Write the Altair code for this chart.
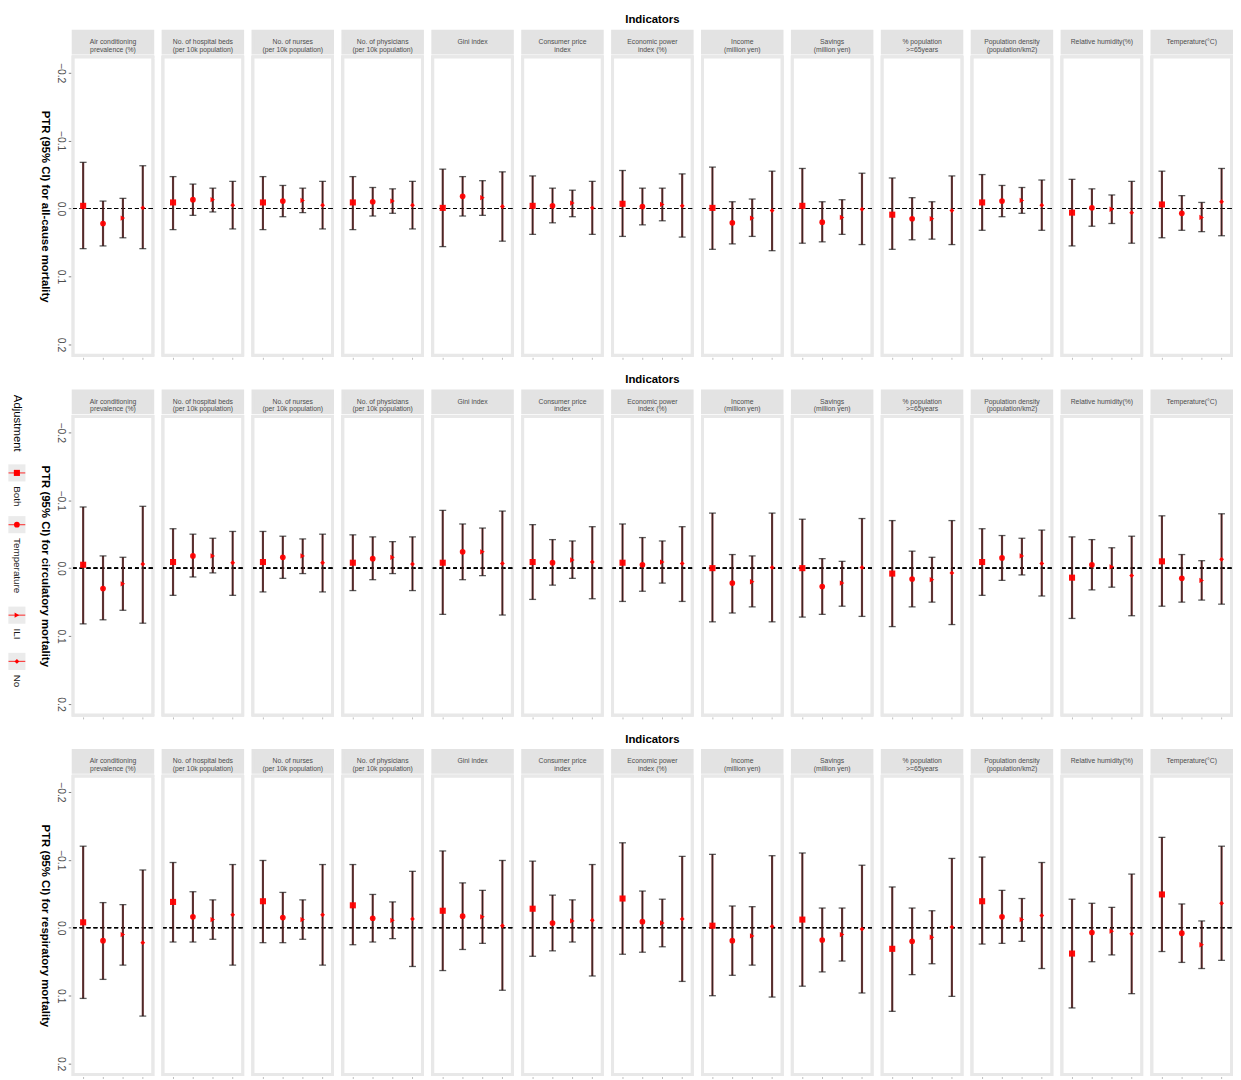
import altair as alt
import pandas as pd

FONT = "Liberation Sans"

indicators = [
    "Air conditioning\nprevalence (%)",
    "No. of hospital beds\n(per 10k population)",
    "No. of nurses\n(per 10k population)",
    "No. of physicians\n(per 10k population)",
    "Gini index",
    "Consumer price\nindex",
    "Economic power\nindex (%)",
    "Income\n(million yen)",
    "Savings\n(million yen)",
    "% population\n>=65years",
    "Population density\n(population/km2)",
    "Relative humidity(%)",
    "Temperature(°C)",
]
adjustments = ["Both", "Temperature", "ILI", "No"]
outcome_titles = [
    "PTR (95% CI) for all-cause mortality",
    "PTR (95% CI) for circulatory mortality",
    "PTR (95% CI) for respiratory mortality",
]

# ---- all-cause mortality: [Both, Temperature, ILI, No] per indicator
allcause_est = [
    [-0.004, 0.022, 0.014, -0.001], [-0.009, -0.013, -0.013, -0.005],
    [-0.009, -0.011, -0.012, -0.005], [-0.009, -0.010, -0.011, -0.005],
    [-0.001, -0.018, -0.016, -0.003], [-0.004, -0.004, -0.008, -0.001],
    [-0.007, -0.003, -0.006, -0.004], [-0.001, 0.021, 0.014, 0.003],
    [-0.004, 0.020, 0.013, 0.001], [0.009, 0.015, 0.015, 0.003],
    [-0.009, -0.011, -0.012, -0.005], [0.006, -0.001, 0.001, 0.006],
    [-0.006, 0.007, 0.013, -0.010],
]
allcause_lo = [
    [-0.068, -0.011, -0.015, -0.063], [-0.047, -0.036, -0.030, -0.040],
    [-0.047, -0.034, -0.030, -0.040], [-0.047, -0.031, -0.029, -0.040],
    [-0.058, -0.047, -0.041, -0.054], [-0.048, -0.030, -0.027, -0.040],
    [-0.056, -0.030, -0.030, -0.051], [-0.061, -0.010, -0.014, -0.055],
    [-0.059, -0.010, -0.013, -0.052], [-0.045, -0.016, -0.010, -0.048],
    [-0.050, -0.034, -0.031, -0.042], [-0.043, -0.029, -0.020, -0.040],
    [-0.055, -0.019, -0.009, -0.059],
]
allcause_hi = [
    [0.059, 0.055, 0.043, 0.059], [0.031, 0.010, 0.005, 0.030],
    [0.031, 0.012, 0.006, 0.030], [0.031, 0.011, 0.007, 0.030],
    [0.056, 0.011, 0.010, 0.048], [0.038, 0.021, 0.012, 0.038],
    [0.041, 0.024, 0.018, 0.042], [0.060, 0.052, 0.041, 0.062],
    [0.051, 0.049, 0.038, 0.053], [0.060, 0.046, 0.045, 0.053],
    [0.032, 0.012, 0.007, 0.032], [0.055, 0.026, 0.022, 0.051],
    [0.043, 0.032, 0.034, 0.040],
]

# ---- circulatory mortality
circ_est = [
    [-0.005, 0.030, 0.023, -0.006], [-0.009, -0.018, -0.018, -0.008],
    [-0.009, -0.016, -0.018, -0.008], [-0.008, -0.014, -0.016, -0.006],
    [-0.008, -0.024, -0.024, -0.007], [-0.009, -0.008, -0.012, -0.009],
    [-0.008, -0.005, -0.009, -0.007], [0.000, 0.022, 0.020, -0.001],
    [0.000, 0.027, 0.022, -0.001], [0.008, 0.016, 0.017, 0.007],
    [-0.009, -0.015, -0.018, -0.007], [0.014, -0.005, -0.002, 0.011],
    [-0.010, 0.015, 0.018, -0.013],
]
circ_lo = [
    [-0.090, -0.018, -0.016, -0.091], [-0.058, -0.050, -0.044, -0.054],
    [-0.054, -0.047, -0.043, -0.050], [-0.049, -0.046, -0.039, -0.046],
    [-0.085, -0.065, -0.059, -0.084], [-0.064, -0.042, -0.040, -0.061],
    [-0.065, -0.045, -0.040, -0.061], [-0.081, -0.020, -0.018, -0.081],
    [-0.072, -0.014, -0.010, -0.073], [-0.070, -0.025, -0.016, -0.070],
    [-0.058, -0.048, -0.044, -0.056], [-0.046, -0.042, -0.030, -0.047],
    [-0.077, -0.020, -0.011, -0.080],
]
circ_hi = [
    [0.082, 0.076, 0.062, 0.081], [0.040, 0.013, 0.007, 0.040],
    [0.035, 0.015, 0.008, 0.035], [0.033, 0.017, 0.008, 0.033],
    [0.068, 0.017, 0.011, 0.069], [0.046, 0.025, 0.015, 0.045],
    [0.049, 0.034, 0.022, 0.049], [0.079, 0.066, 0.057, 0.079],
    [0.072, 0.068, 0.056, 0.071], [0.086, 0.057, 0.050, 0.083],
    [0.040, 0.018, 0.010, 0.041], [0.074, 0.032, 0.028, 0.070],
    [0.056, 0.050, 0.047, 0.053],
]

# ---- respiratory mortality
resp_est = [
    [-0.008, 0.019, 0.010, 0.022], [-0.038, -0.016, -0.012, -0.019],
    [-0.039, -0.015, -0.012, -0.019], [-0.033, -0.014, -0.011, -0.013],
    [-0.025, -0.017, -0.016, -0.003], [-0.028, -0.007, -0.010, -0.011],
    [-0.043, -0.009, -0.007, -0.013], [-0.003, 0.019, 0.012, -0.002],
    [-0.012, 0.018, 0.010, 0.002], [0.031, 0.020, 0.014, -0.001],
    [-0.039, -0.016, -0.012, -0.018], [0.038, 0.007, 0.005, 0.009],
    [-0.049, 0.008, 0.025, -0.036],
]
resp_lo = [
    [-0.120, -0.037, -0.034, -0.085], [-0.096, -0.053, -0.041, -0.093],
    [-0.099, -0.052, -0.041, -0.093], [-0.093, -0.049, -0.038, -0.083],
    [-0.113, -0.066, -0.055, -0.099], [-0.098, -0.048, -0.041, -0.093],
    [-0.125, -0.054, -0.042, -0.105], [-0.108, -0.032, -0.031, -0.106],
    [-0.110, -0.029, -0.029, -0.092], [-0.060, -0.029, -0.025, -0.102],
    [-0.104, -0.055, -0.043, -0.096], [-0.042, -0.036, -0.030, -0.079],
    [-0.133, -0.035, -0.010, -0.120],
]
resp_hi = [
    [0.104, 0.076, 0.055, 0.130], [0.021, 0.021, 0.017, 0.055],
    [0.022, 0.022, 0.017, 0.055], [0.025, 0.021, 0.016, 0.057],
    [0.063, 0.032, 0.023, 0.092], [0.042, 0.034, 0.021, 0.071],
    [0.039, 0.036, 0.028, 0.079], [0.100, 0.070, 0.055, 0.102],
    [0.086, 0.065, 0.049, 0.096], [0.123, 0.069, 0.053, 0.101],
    [0.024, 0.023, 0.020, 0.060], [0.118, 0.050, 0.040, 0.097],
    [0.035, 0.051, 0.060, 0.048],
]

Y_DOMAIN = [-0.223, 0.216]
Y_TICKS = [-0.2, -0.1, 0.0, 0.1, 0.2]

# ---- layout / style
PANEL_W = 80.5
PANEL_H = 302
STRIP_H = 22
GAP = 7
FRAME = 3
STRIP_FILL = "#e3e3e3"
FRAME_COL = "#e8e8e8"
keys = [f"k{i:02d}" for i in range(len(indicators))]

shape_scale = alt.Scale(domain=adjustments,
                        range=["square", "circle", "triangle-right", "diamond"])
size_scale = alt.Scale(domain=adjustments, range=[38, 24, 30, 13])


def long_table(est, lo, hi):
    rows = []
    for i, k in enumerate(keys):
        for j, a in enumerate(adjustments):
            rows.append({"key": k, "adj": a, "est": est[i][j],
                         "lo": lo[i][j], "hi": hi[i][j]})
    return pd.DataFrame(rows)


def strip_row():
    df = pd.DataFrame({"key": keys, "label": indicators})
    bg = alt.Chart().mark_rect(fill=STRIP_FILL, strokeWidth=FRAME).encode(
        stroke=alt.value(STRIP_FILL))
    txt = alt.Chart().mark_text(lineBreak="\n", fontSize=6.9, color="#4d4d4d",
                                font=FONT, lineHeight=7.6).encode(text="label:N")
    return alt.layer(bg, txt, data=df).properties(
        width=PANEL_W, height=STRIP_H,
    ).facet(
        column=alt.Column("key:O", title=None,
                          header=alt.Header(labels=False, labelPadding=0)),
        spacing=GAP,
    ).properties(
        title=alt.TitleParams("Indicators", font=FONT, fontSize=11.5,
                              fontWeight="bold", color="black", anchor="middle",
                              offset=4)
    )


def plot_row(title, est, lo, hi):
    df = long_table(est, lo, hi)
    ysc = alt.Scale(domain=Y_DOMAIN, reverse=True, nice=False, zero=False)
    yax = alt.Axis(values=Y_TICKS, format=".1f", labelAngle=90, labelAlign="center",
                   labelBaseline="top", labelPadding=3, labelFontSize=10.5,
                   labelColor="#4d4d4d", labelFont=FONT, tickSize=3,
                   tickColor="#7f7f7f", domain=False, grid=False, titleAngle=90,
                   titleBaseline="top", titleFont=FONT, titleFontSize=11.5,
                   titleFontWeight="bold", titleColor="black", titlePadding=5)
    xenc = alt.X("adj:N", sort=adjustments,
                 scale=alt.Scale(type="point", padding=0.5),
                 axis=alt.Axis(labels=False, title=None, domain=False, ticks=True,
                               tickSize=2, tickColor="#bdbdbd"))

    def Y(field):
        return alt.Y(field, scale=ysc, axis=yax, title=title)

    frame = alt.Chart().mark_rect(fill="white", strokeWidth=FRAME).encode(
        stroke=alt.value(FRAME_COL))
    zero = alt.Chart().transform_calculate(zero="0").mark_rule(
        color="black", strokeDash=[4, 3], strokeWidth=1.1).encode(y=Y("zero:Q"))
    ci_bg = alt.Chart().mark_rule(color="#6e2323", strokeWidth=2.2, opacity=0.85).encode(
        x=xenc, y=Y("lo:Q"), y2="hi:Q")
    ci_fg = alt.Chart().mark_rule(color="#111111", strokeWidth=0.7).encode(
        x=xenc, y=Y("lo:Q"), y2="hi:Q")
    cap_lo = alt.Chart().mark_tick(color="#1a1a1a", size=7, thickness=1.3).encode(
        x=xenc, y=Y("lo:Q"))
    cap_hi = alt.Chart().mark_tick(color="#1a1a1a", size=7, thickness=1.3).encode(
        x=xenc, y=Y("hi:Q"))
    pts = alt.Chart().mark_point(filled=True, color="#ff0000", opacity=0.95).encode(
        x=xenc, y=Y("est:Q"),
        shape=alt.Shape("adj:N", scale=shape_scale, legend=None),
        size=alt.Size("adj:N", scale=size_scale, legend=None))
    return alt.layer(frame, zero, ci_bg, ci_fg, cap_lo, cap_hi, pts, data=df).properties(
        width=PANEL_W, height=PANEL_H
    ).facet(
        column=alt.Column("key:O", title=None,
                          header=alt.Header(labels=False, labelPadding=0)),
        spacing=GAP,
    )


def legend_chart():
    LEG_H = 720
    title_start = 368
    char_w = 5.6
    key_half = 8.5
    pos_key, pos_lab = [], []
    cur = title_start + 10 * 6.2 + 17
    for a in adjustments:
        pos_key.append(cur)
        lab = cur + key_half + 5
        pos_lab.append(lab)
        cur = lab + len(a) * char_w + 8 + key_half
    ldf = pd.DataFrame({"adj": adjustments, "ky": pos_key, "ly": pos_lab})
    tdf = pd.DataFrame({"t": ["Adjustment"], "ty": [title_start]})
    lsc = alt.Scale(domain=[0, LEG_H], range=[0, LEG_H])
    LX = 9
    bgk = alt.Chart(ldf).mark_square(size=300, color="#ebebeb", opacity=1).encode(
        x=alt.value(LX), y=alt.Y("ky:Q", scale=lsc, axis=None))
    line = alt.Chart(ldf).mark_tick(orient="horizontal", size=17, thickness=1.2,
                                    color="#ff0000").encode(
        x=alt.value(LX), y=alt.Y("ky:Q", scale=lsc, axis=None))
    sym = alt.Chart(ldf).mark_point(filled=True, color="#ff0000", opacity=1).encode(
        x=alt.value(LX), y=alt.Y("ky:Q", scale=lsc, axis=None),
        shape=alt.Shape("adj:N", scale=shape_scale, legend=None),
        size=alt.Size("adj:N", scale=size_scale, legend=None))
    labs = alt.Chart(ldf).mark_text(angle=90, align="left", baseline="middle",
                                    fontSize=10, font=FONT, color="#1a1a1a").encode(
        x=alt.value(LX), y=alt.Y("ly:Q", scale=lsc, axis=None), text="adj:N")
    ttl = alt.Chart(tdf).mark_text(angle=90, align="left", baseline="middle",
                                   fontSize=11.5, font=FONT, color="black").encode(
        x=alt.value(LX), y=alt.Y("ty:Q", scale=lsc, axis=None), text="t:N")
    return alt.layer(bgk, line, sym, labs, ttl).properties(
        width=18, height=LEG_H)


rows = []
for ttl, (e, l, h) in zip(outcome_titles,
                          [(allcause_est, allcause_lo, allcause_hi),
                           (circ_est, circ_lo, circ_hi),
                           (resp_est, resp_lo, resp_hi)]):
    rows.append(alt.vconcat(strip_row(), plot_row(ttl, e, l, h), spacing=0))

chart = alt.hconcat(
    legend_chart(), alt.vconcat(*rows, spacing=14), spacing=13
).properties(padding=0).configure(font=FONT).configure_view(strokeWidth=0)

chart.save("out.html", embed_options={"renderer": "svg", "actions": False})
